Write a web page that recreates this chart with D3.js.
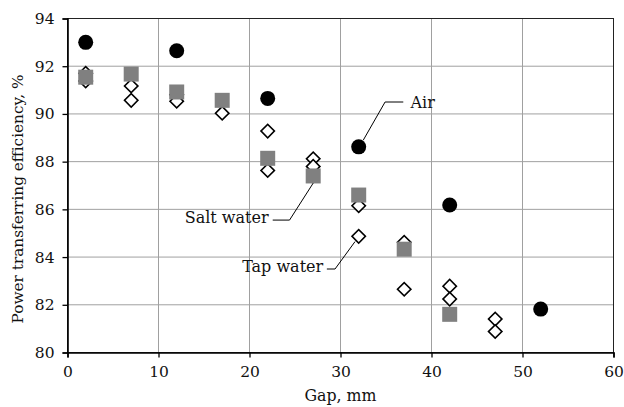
<!DOCTYPE html>
<html lang="en">
<head>
  <meta charset="UTF-8">
  <title>Power transferring efficiency vs gap</title>
  <script src="https://d3js.org/d3.v7.min.js"></script>
  <style>
    body { margin: 0; background: #fff; }
    svg text { font-family: "DejaVu Serif", serif; fill: #111; }
    .grid line { stroke: #a0a0a0; stroke-width: 1; }
    .axis path, .axis line { stroke: #000; }
  </style>
</head>
<body>
  <svg id="chart" width="624" height="407"></svg>
  <script>
    // gap in mm, efficiency in %
    const airGap = [2, 12, 22, 32, 42, 52];
    const airEff = [93.0, 92.65, 90.65, 88.62, 86.18, 81.82];

    const saltGap = [2, 7, 12, 17, 22, 27, 32, 37, 42];
    const saltEff = [91.54, 91.67, 90.92, 90.57, 88.14, 87.4, 86.6, 84.33, 81.6];

    const tapGap = [2, 2, 7, 7, 12, 12, 17, 22, 22, 27, 27, 32, 32, 37, 37, 42, 42, 47, 47];
    const tapEff = [91.7, 91.38, 91.17, 90.57, 90.8, 90.53, 90.03, 89.28, 87.63, 88.12, 87.8, 86.15, 84.87, 84.62, 82.65, 82.78, 82.24, 81.4, 80.88];

    const xTicks = [0, 10, 20, 30, 40, 50, 60];
    const yTicks = [80, 82, 84, 86, 88, 90, 92, 94];

    // labels with leader lines, in data units
    const labels = [
      { text: "Air", x: 37.7, y: 90.5, anchor: "start", path: [[32.5, 88.9], [34.9, 90.5], [36.9, 90.5]] },
      { text: "Salt water", x: 22.1, y: 85.67, anchor: "end", path: [[27.0, 87.1], [24.4, 85.55], [22.55, 85.55]] },
      { text: "Tap water", x: 28.1, y: 83.6, anchor: "end", path: [[31.6, 84.65], [29.4, 83.5], [28.5, 83.5]] }
    ];

    const margin = { top: 18.5, right: 10.5, bottom: 54.5, left: 67.5 };
    const width = 624, height = 407;
    const svg = d3.select("#chart");

    const x = d3.scaleLinear().domain([0, 60]).range([margin.left, width - margin.right]);
    const y = d3.scaleLinear().domain([80, 94]).range([height - margin.bottom, margin.top]);

    // grid
    const grid = svg.append("g").attr("class", "grid");
    grid.selectAll(".gx").data(xTicks.slice(1, -1)).enter().append("line")
      .attr("x1", d => x(d)).attr("x2", d => x(d))
      .attr("y1", y(80)).attr("y2", y(94));
    grid.selectAll(".gy").data(yTicks.slice(1, -1)).enter().append("line")
      .attr("x1", x(0)).attr("x2", x(60))
      .attr("y1", d => y(d)).attr("y2", d => y(d));

    // frame
    svg.append("rect")
      .attr("x", x(0)).attr("y", y(94))
      .attr("width", x(60) - x(0)).attr("height", y(80) - y(94))
      .attr("fill", "none").attr("stroke", "#222").attr("stroke-width", 1);

    const xAxis = svg.append("g").attr("class", "axis")
      .attr("transform", `translate(0,${y(80)})`)
      .call(d3.axisBottom(x).tickValues(xTicks).tickSize(5).tickPadding(8));
    const yAxis = svg.append("g").attr("class", "axis")
      .attr("transform", `translate(${x(0)},0)`)
      .call(d3.axisLeft(y).tickValues(yTicks).tickSize(5).tickPadding(8));
    [xAxis, yAxis].forEach(a => {
      a.select(".domain").attr("stroke-width", 1.6);
      a.selectAll("line").attr("stroke-width", 1.3);
      a.selectAll("text").attr("font-size", 15.5).style("font-family", '"DejaVu Serif", serif').attr("fill", "#111");
    });

    // axis titles
    svg.append("text")
      .attr("x", (x(0) + x(60)) / 2).attr("y", 401)
      .attr("text-anchor", "middle").attr("font-size", 15.8)
      .text("Gap, mm");
    svg.append("text")
      .attr("transform", `translate(23,199) rotate(-90)`)
      .attr("text-anchor", "middle").attr("font-size", 15.3)
      .text("Power transferring efficiency, %");

    // tap water: open diamonds
    const tap = tapGap.map((g, i) => ({ g, e: tapEff[i] }));
    svg.append("g").selectAll("path").data(tap).enter().append("path")
      .attr("d", d3.symbol(d3.symbolSquare, 90))
      .attr("transform", d => `translate(${x(d.g)},${y(d.e)}) rotate(45)`)
      .attr("fill", "#fff").attr("stroke", "#000").attr("stroke-width", 1.6);

    // salt water: grey squares
    const salt = saltGap.map((g, i) => ({ g, e: saltEff[i] }));
    svg.append("g").selectAll("rect").data(salt).enter().append("rect")
      .attr("x", d => x(d.g) - 7.5).attr("y", d => y(d.e) - 7.5)
      .attr("width", 15).attr("height", 15)
      .attr("fill", "#808080");

    // air: black circles
    const air = airGap.map((g, i) => ({ g, e: airEff[i] }));
    svg.append("g").selectAll("circle").data(air).enter().append("circle")
      .attr("cx", d => x(d.g)).attr("cy", d => y(d.e)).attr("r", 7.5)
      .attr("fill", "#000");

    // series labels
    const line = d3.line().x(p => x(p[0])).y(p => y(p[1]));
    labels.forEach(l => {
      svg.append("path").attr("d", line(l.path))
        .attr("fill", "none").attr("stroke", "#000").attr("stroke-width", 1);
      svg.append("text")
        .attr("x", x(l.x)).attr("y", y(l.y))
        .attr("dy", "0.35em").attr("text-anchor", l.anchor)
        .attr("font-size", 16)
        .text(l.text);
    });
  </script>
</body>
</html>
